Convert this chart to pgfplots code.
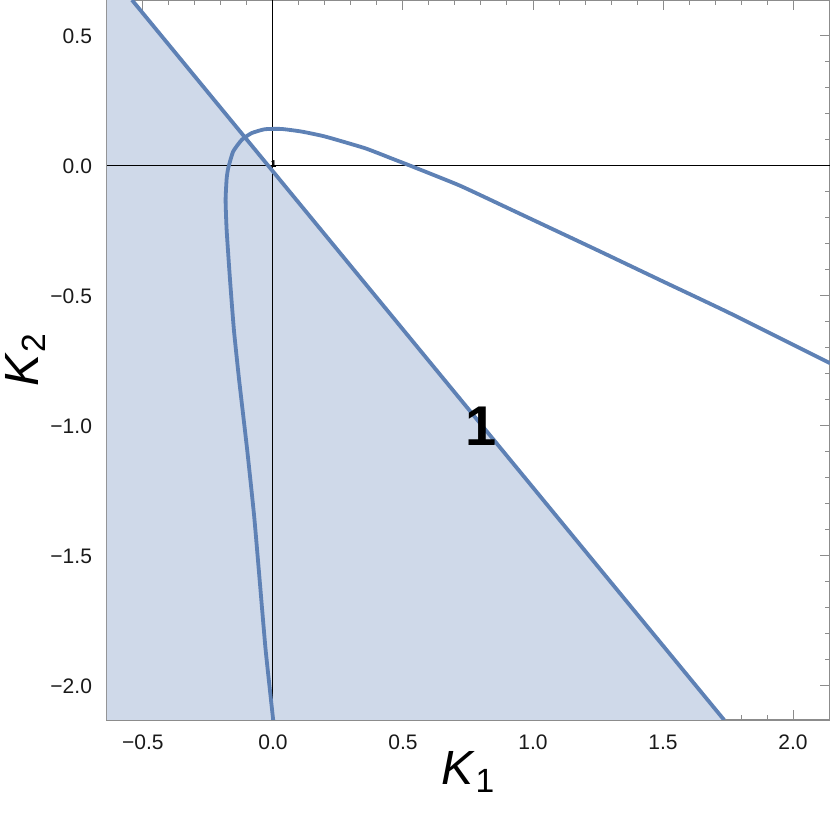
\documentclass[border=0pt]{standalone}
\usepackage{fontspec}
\setmainfont{Liberation Sans}
\usepackage{pgfplots}
\pgfplotsset{compat=1.18}
\definecolor{mline}{rgb}{0.368417,0.506779,0.709798}
\definecolor{mfill}{RGB}{207,217,233}
\definecolor{frameg}{RGB}{140,140,140}
\begin{document}
\begin{tikzpicture}
\begin{axis}[
  scale only axis, width=361.5pt, height=360pt,
  xmin=-0.638, xmax=2.142, ymin=-2.131, ymax=0.638,
  axis line style={frameg, line width=0.6pt},
  xtick={-0.5,0,0.5,1,1.5,2}, xticklabels={−0.5,0.0,0.5,1.0,1.5,2.0},
  ytick={-2,-1.5,-1,-0.5,0,0.5}, yticklabels={−2.0,−1.5,−1.0,−0.5,0.0,0.5},
  minor x tick num=4, minor y tick num=4,
  tick align=inside, major tick length=5pt, minor tick length=2.5pt,
  tick style={frameg, line width=0.5pt},
  ticklabel style={font=\fontsize{10.5}{12}\selectfont, text=black!90},
  xticklabel style={yshift=-4pt},
  yticklabel style={xshift=-4pt},
  xlabel={\textit{K}\textsubscript{1}},
  ylabel={\textit{K}\textsubscript{2}},
  label style={font=\fontsize{24}{28}\selectfont},
  xlabel style={at={(axis description cs:0.5,-0.072)}, anchor=center},
  ylabel style={at={(axis description cs:-0.113,0.5)}, anchor=center, rotate=0},
]
\addplot[fill=mfill, draw=none] coordinates {(-0.638,0.638) (-0.542,0.638) (1.735,-2.131) (-0.638,-2.131)} -- cycle;
\addplot[black, line width=0.5pt] coordinates {(0,-2.131) (0,0.638)};
\addplot[black, line width=0.5pt] coordinates {(-0.638,0) (2.142,0)};
\addplot[mline, line width=1.9pt] coordinates {(-0.542,0.638) (1.735,-2.131)};
\addplot[mline, line width=1.9pt, smooth, tension=0.3] coordinates {
(0.001,-2.131) (-0.028,-1.862) (-0.050,-1.605) (-0.072,-1.349) (-0.099,-1.092)
(-0.130,-0.823) (-0.150,-0.631) (-0.165,-0.438) (-0.178,-0.246) (-0.182,-0.131)
(-0.178,-0.05) (-0.172,-0.009) (-0.153,0.055) (-0.120,0.100) (-0.082,0.126)
(-0.031,0.141) (0.033,0.142) (0.110,0.132) (0.200,0.113) (0.354,0.068)
(0.463,0.026) (0.540,-0.004) (0.719,-0.076) (0.924,-0.172) (1.245,-0.323)
(1.501,-0.445) (1.758,-0.567) (2.142,-0.759)};
\node at (axis cs:0.8,-1.0) {\fontsize{28}{30}\selectfont\bfseries 1};
\node at (axis cs:0.003,0.006) {\fontsize{5}{6}\selectfont\bfseries 1};
\end{axis}
\pgfresetboundingbox
\path (current axis.south west) ++(-53.5pt,-47pt) rectangle (current axis.north east);
\end{tikzpicture}
\end{document}
